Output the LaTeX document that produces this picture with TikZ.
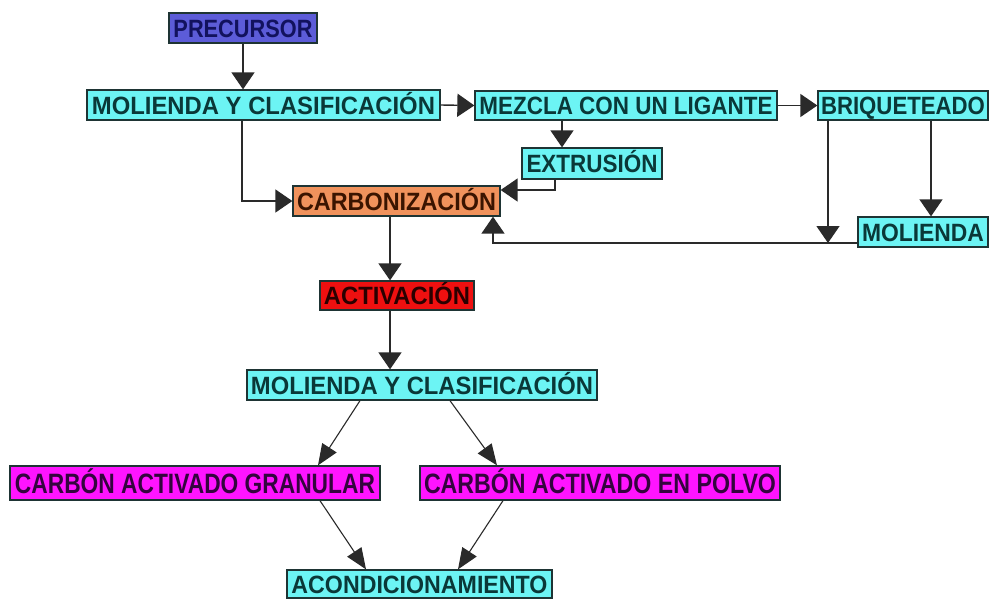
\documentclass[tikz,border=0pt]{standalone}
\usepackage{fontspec}
\setmainfont{Liberation Sans}
\usepackage{graphicx}
\usetikzlibrary{arrows.meta}
\definecolor{cyfill}{HTML}{6CF4F4}
\definecolor{cytext}{HTML}{0A3838}
\definecolor{prefill}{HTML}{5C5CD8}
\definecolor{pretext}{HTML}{12125E}
\definecolor{carbfill}{HTML}{F0925C}
\definecolor{carbtext}{HTML}{3A1400}
\definecolor{actfill}{HTML}{EE1010}
\definecolor{acttext}{HTML}{2A0000}
\definecolor{magfill}{HTML}{FF14FF}
\definecolor{magtext}{HTML}{34043E}
\definecolor{edge}{HTML}{1E3434}
\definecolor{linec}{HTML}{2A2A2A}
\newcommand{\fw}[2]{\resizebox{#1pt}{\height}{#2}}
\tikzset{
  x=1pt, y=-1pt,
  boxst/.style={draw=edge, line width=1.3pt, inner sep=0pt, minimum height=30pt,
    text height=18pt, text depth=0pt, font=\fontsize{25}{25}\selectfont\bfseries},
  cy/.style={boxst, fill=cyfill, text=cytext},
  pre/.style={boxst, fill=prefill, text=pretext},
  carb/.style={boxst, fill=carbfill, text=carbtext},
  act/.style={boxst, fill=actfill, text=acttext},
  mag/.style={boxst, fill=magfill, text=magtext, minimum height=34pt, text height=20pt,
    font=\fontsize{28}{28}\selectfont\bfseries},
  arr/.style={draw=linec, line width=1.4pt, -{Triangle[length=17pt,width=23pt]}, color=linec},
  darr/.style={draw=linec, line width=1.1pt, -{Triangle[length=21pt,width=17pt]}, color=linec},
  plain/.style={draw=linec, line width=1.4pt}
}
\begin{document}
\begin{tikzpicture}
\useasboundingbox[fill=white] (0,0) rectangle (989,598);
% nodes
\node[pre, minimum width=148pt] (pre) at (243,28) {\fw{139}{PRECURSOR}};
\node[cy, minimum width=353pt] (mol1) at (263.5,105) {\fw{343}{MOLIENDA Y CLASIFICACIÓN}};
\node[cy, minimum width=302pt, minimum height=29pt] (mez) at (626,105.5) {\fw{293}{MEZCLA CON UN LIGANTE}};
\node[cy, minimum width=170pt, minimum height=29pt] (bri) at (903,105.5) {\fw{164}{BRIQUETEADO}};
\node[cy, minimum width=140pt, minimum height=31pt] (ext) at (592,163.5) {\fw{131}{EXTRUSIÓN}};
\node[carb, minimum width=207pt] (carb) at (396.5,201) {\fw{199}{CARBONIZACIÓN}};
\node[cy, minimum width=130pt] (molr) at (923,232) {\fw{122}{MOLIENDA}};
\node[act, minimum width=154pt, minimum height=29pt] (act) at (397,295.5) {\fw{146}{ACTIVACIÓN}};
\node[cy, minimum width=350pt] (mol2) at (422,385) {\fw{342}{MOLIENDA Y CLASIFICACIÓN}};
\node[mag, minimum width=370pt] (gran) at (195,483) {\fw{360}{CARBÓN ACTIVADO GRANULAR}};
\node[mag, minimum width=360pt] (polvo) at (600,483) {\fw{352}{CARBÓN ACTIVADO EN POLVO}};
\node[cy, minimum width=265pt, minimum height=28pt] (acond) at (419.5,584) {\fw{256}{ACONDICIONAMIENTO}};
% helper coordinates
\coordinate (c1) at (242,201);
\coordinate (c2) at (562,0);
\coordinate (c3) at (555,190);
\coordinate (c4) at (828,243);
\coordinate (c5) at (931,0);
\coordinate (c6) at (493,243);
\coordinate (c7) at (390,0);
\coordinate (d1) at (360,0);
\coordinate (d2) at (318,0);
\coordinate (d3) at (450,0);
\coordinate (d4) at (497,0);
\coordinate (d5) at (320,0);
\coordinate (d6) at (366,0);
\coordinate (d7) at (503,0);
\coordinate (d8) at (458,0);
% connectors
\draw[arr] (pre.south) -- (pre.south |- mol1.north);
\draw[arr] (mol1.east) -- (mez.west);
\draw[arr] (mez.east) -- (bri.west);
\draw[arr] (mez.south -| c2) -- (ext.north -| c2);
\draw[arr] (ext.south -| c3) -- (c3) -- (carb.east |- c3);
\draw[arr] (mol1.south -| c1) |- (carb.west);
\draw[arr] (bri.south -| c4) -- (c4);
\draw[arr] (bri.south -| c5) -- (molr.north -| c5);
\draw[arr] (molr.west |- c6) -- (c6) -- (carb.south -| c6);
\draw[arr] (carb.south -| c7) -- (act.north -| c7);
\draw[arr] (act.south -| c7) -- (mol2.north -| c7);
\draw[darr] (mol2.south -| d1) -- (gran.north -| d2);
\draw[darr] (mol2.south -| d3) -- (polvo.north -| d4);
\draw[darr] (gran.south -| d5) -- (acond.north -| d6);
\draw[darr] (polvo.south -| d7) -- (acond.north -| d8);
\end{tikzpicture}
\end{document}
